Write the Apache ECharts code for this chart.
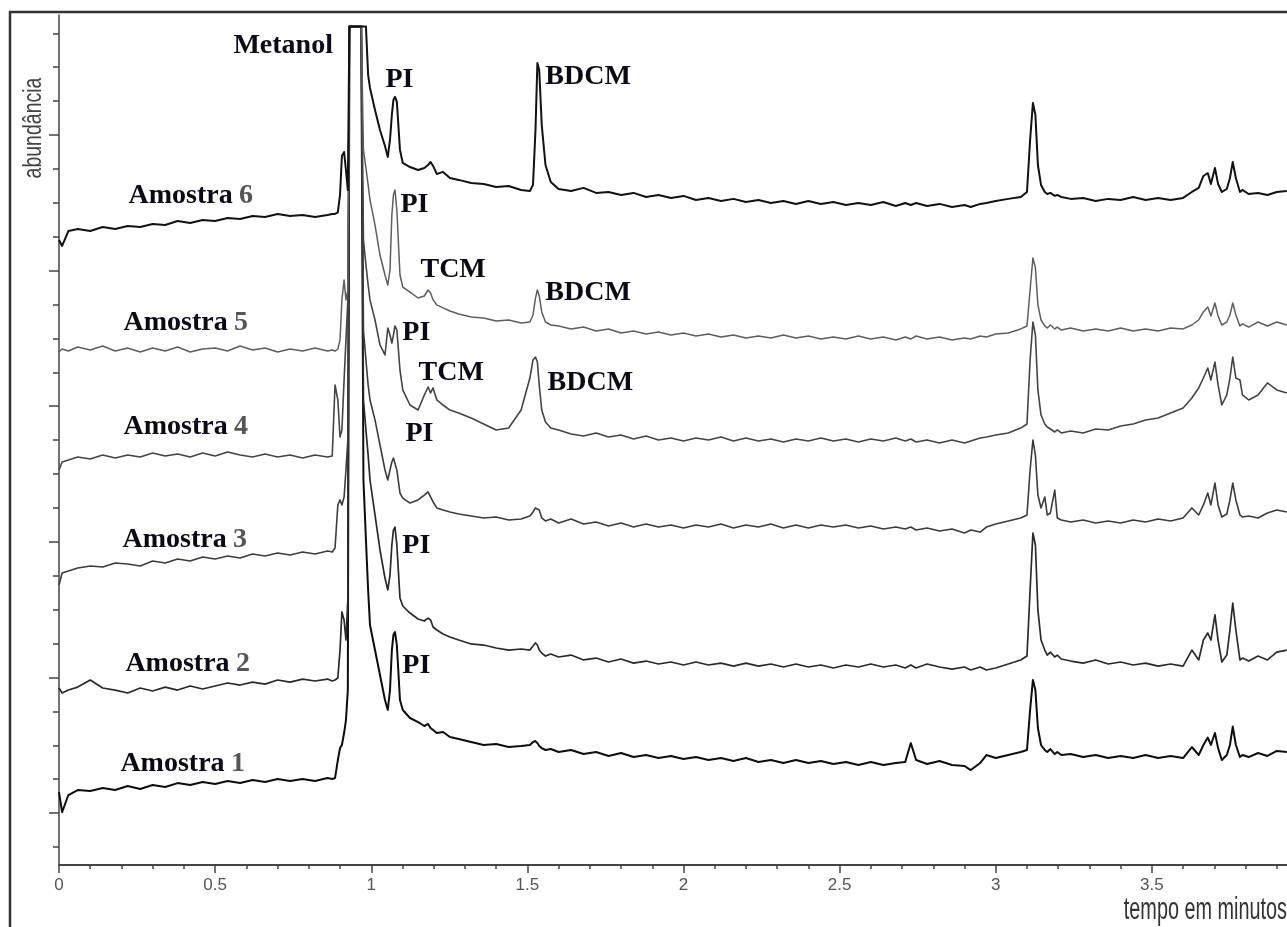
<!DOCTYPE html>
<html lang="pt">
<head>
<meta charset="UTF-8">
<title>Cromatogramas - Amostras 1 a 6</title>
<script src="https://cdn.jsdelivr.net/npm/echarts@6.0.0/dist/echarts.min.js"></script>
<style>
  html, body { margin: 0; padding: 0; width: 100%; height: 100%; background: #fff; overflow: hidden; }
  #chart { width: 1287px; height: 927px; }
</style>
</head>
<body>
<div id="chart"></div>
<script>
// tempo de retenção (min), grade comum a todas as amostras
var tempo = [
  0, 0.01, 0.03, 0.06, 0.10, 0.14, 0.18, 0.22, 0.26, 0.30, 0.34, 0.38, 0.42, 0.46, 0.50, 0.54, 0.58, 0.62, 0.66, 0.70, 0.74, 0.78, 0.82, 0.86,
  0.875, 0.884, 0.893, 0.900, 0.906, 0.913, 0.919, 0.925, 0.930, 0.950, 0.968, 0.975, 0.983, 0.990, 0.996,
  1.012, 1.028, 1.044, 1.053, 1.060, 1.066, 1.071, 1.076, 1.082, 1.092, 1.101,
  1.124, 1.150, 1.170, 1.182, 1.190, 1.198, 1.210, 1.230, 1.252,
  1.28, 1.32, 1.36, 1.40, 1.44, 1.48, 1.508, 1.518, 1.526, 1.532, 1.538, 1.546, 1.558, 1.575,
  1.60, 1.64, 1.68, 1.72, 1.76, 1.80, 1.84, 1.88, 1.92, 1.96, 2.00, 2.04, 2.08, 2.12, 2.16, 2.20, 2.24, 2.28, 2.32, 2.36, 2.40, 2.44, 2.48, 2.52, 2.56, 2.60, 2.64, 2.68,
  2.71, 2.728, 2.745, 2.78, 2.82, 2.86, 2.90, 2.92, 2.95, 2.97, 3.00, 3.04, 3.08,
  3.100, 3.110, 3.119, 3.127, 3.135, 3.145, 3.157, 3.165, 3.175, 3.189, 3.197, 3.21,
  3.24, 3.28, 3.32, 3.36, 3.40, 3.44, 3.48, 3.52, 3.56, 3.60,
  3.628, 3.65, 3.665, 3.679, 3.689, 3.702, 3.712, 3.724, 3.740, 3.750, 3.759, 3.769, 3.782,
  3.79, 3.81, 3.84, 3.87, 3.90, 3.932
];

// abundância (unidades arbitrárias, traços deslocados como na figura)
var amostra6 = [
  42.26, 41.82, 42.92, 43.07, 42.92, 43.22, 43.07, 43.29, 43.22, 43.44, 43.37, 43.66, 43.51, 43.74, 43.66, 43.88, 43.81, 44.03, 43.96, 44.18, 44.03, 44.10, 43.96, 44.10,
  44.18, 44.18, 44.30, 45.60, 48.45, 48.75, 47.40, 45.95, 58, 58, 58, 58, 58, 54.43, 53.47,
  51.85, 50.37, 49.19, 48.38, 49.63, 51.48, 52.59, 52.81, 52.44, 48.90, 47.94,
  47.64, 47.42, 47.57, 47.79, 48.01, 47.72, 47.13, 47.28, 46.83,
  46.69, 46.46, 46.39, 46.17, 46.24, 45.95, 45.87, 46.32, 50.37, 55.31, 54.80, 50.74, 47.79, 46.54,
  46.02, 45.87, 46.10, 45.73, 45.80, 45.58, 45.73, 45.43, 45.58, 45.36, 45.51, 45.21, 45.36, 45.14, 45.29, 45.06, 45.21, 44.99, 45.14, 44.92, 45.14, 44.92, 45.06, 44.84, 44.99, 44.84, 45.06, 44.77,
  44.99, 44.84, 44.99, 44.77, 44.92, 44.69, 44.84, 44.69, 44.92, 44.99, 45.14, 45.29, 45.43,
  45.80, 49.63, 52.36, 51.48, 47.79, 46.32, 45.80, 45.65, 45.73, 45.51, 45.58, 45.43,
  45.29, 45.36, 45.14, 45.29, 45.21, 45.43, 45.21, 45.36, 45.21, 45.36,
  45.80, 46.10, 46.98, 47.20, 46.39, 47.57, 46.39, 45.80, 46.02, 46.83, 48.01, 46.83, 45.80,
  45.95, 45.65, 45.73, 45.58, 45.80, 45.87
];
var amostra5 = [
  34.00, 34.22, 34.07, 34.37, 34.15, 34.44, 34.07, 34.29, 34.00, 34.29, 34.07, 34.37, 34.00, 34.22, 34.29, 34.07, 34.44, 34.15, 34.29, 34.00, 34.22, 34.07, 34.29, 34.07,
  34.15, 34.07, 34.22, 34.89, 37.84, 39.31, 37.84, 38.57, 58, 58, 58, 48.90, 47.57, 46.32, 45.21,
  43.37, 41.15, 39.68, 38.94, 40.05, 44.10, 45.58, 45.95, 44.47, 39.68, 38.79,
  38.42, 37.98, 38.13, 38.57, 38.35, 37.84, 37.47, 37.25, 37.02,
  36.80, 36.58, 36.51, 36.29, 36.36, 36.14, 36.21, 36.73, 37.98, 38.57, 38.13, 36.95, 36.21, 35.99,
  35.92, 35.70, 35.84, 35.55, 35.70, 35.40, 35.55, 35.33, 35.48, 35.25, 35.40, 35.18, 35.33, 35.11, 35.25, 35.03, 35.18, 35.03, 35.25, 35.03, 35.18, 34.96, 35.11, 34.96, 35.18, 34.96, 35.11, 34.89,
  35.11, 34.96, 35.18, 34.96, 35.11, 34.89, 35.03, 34.96, 35.18, 35.11, 35.33, 35.40, 35.70,
  35.92, 38.57, 40.93, 40.20, 37.47, 36.36, 35.92, 35.77, 35.99, 35.70, 35.84, 35.62,
  35.77, 35.55, 35.70, 35.55, 35.77, 35.55, 35.70, 35.55, 35.77, 35.70,
  35.99, 36.36, 36.95, 37.32, 36.66, 37.61, 36.66, 35.99, 36.21, 36.73, 37.61, 36.73, 35.92,
  36.07, 35.84, 36.21, 35.92, 36.21, 35.99
];
var amostra4 = [
  25.30, 25.89, 26.03, 26.26, 26.11, 26.40, 26.18, 26.40, 26.26, 26.55, 26.33, 26.48, 26.26, 26.55, 26.33, 26.63, 26.40, 26.26, 26.48, 26.26, 26.40, 26.18, 26.40, 26.26,
  26.33, 31.57, 30.46, 27.73, 28.25, 31.94, 34.88, 37.84, 58, 58, 58, 42.26, 40.42, 38.94, 37.84,
  36.36, 34.52, 33.78, 35.77, 35.25, 34.66, 35.25, 35.92, 35.62, 32.67, 31.20,
  30.09, 29.72, 30.83, 31.42, 30.98, 31.35, 30.46, 30.09, 29.72,
  29.50, 29.13, 28.69, 28.25, 28.39, 29.72, 32.08, 33.41, 33.63, 33.26, 31.57, 29.72, 28.84, 28.39,
  28.25, 27.95, 27.81, 28.03, 27.73, 27.88, 27.58, 27.81, 27.51, 27.66, 27.44, 27.66, 27.51, 27.73, 27.44, 27.66, 27.44, 27.58, 27.36, 27.58, 27.44, 27.66, 27.44, 27.58, 27.36, 27.58, 27.44, 27.66,
  27.44, 27.58, 27.36, 27.51, 27.29, 27.51, 27.29, 27.44, 27.66, 27.73, 27.88, 28.03, 28.39,
  28.69, 33.41, 36.21, 35.25, 31.20, 29.35, 28.69, 28.47, 28.32, 28.10, 28.25, 28.03,
  28.17, 28.03, 28.32, 28.25, 28.54, 28.69, 28.99, 29.13, 29.50, 29.87,
  30.61, 31.35, 32.08, 32.82, 31.94, 33.26, 31.57, 30.09, 30.83, 32.08, 33.63, 32.08, 31.94,
  30.83, 30.46, 30.83, 31.72, 31.20, 30.98
];
var amostra3 = [
  16.82, 17.70, 17.85, 18.07, 18.22, 18.14, 18.44, 18.37, 18.22, 18.59, 18.44, 18.73, 18.59, 18.88, 18.73, 18.96, 18.81, 19.10, 18.96, 19.18, 19.03, 19.25, 19.10, 19.32,
  19.25, 19.55, 22.72, 23.09, 22.72, 23.31, 25.30, 27.51, 58, 58, 58, 35.62, 33.41, 31.57, 30.46,
  28.99, 27.14, 25.30, 24.56, 25.30, 25.89, 26.18, 26.26, 25.30, 23.60, 23.23,
  22.86, 23.09, 23.45, 23.68, 23.31, 22.94, 22.50, 22.35, 22.20,
  22.05, 21.91, 21.76, 21.83, 21.61, 21.68, 21.91, 22.20, 22.50, 22.57, 22.35, 21.76, 21.54, 21.68,
  21.39, 21.68, 21.32, 21.46, 21.17, 21.39, 21.09, 21.32, 21.09, 21.24, 21.02, 21.24, 21.09, 21.32, 21.02, 21.24, 21.09, 21.32, 21.02, 21.24, 21.02, 21.24, 21.09, 21.24, 21.02, 21.17, 20.95, 21.09,
  20.95, 21.09, 20.87, 21.02, 20.80, 20.95, 20.65, 20.87, 20.72, 21.09, 21.32, 21.54, 21.76,
  21.98, 25.30, 27.51, 26.40, 23.45, 22.50, 23.31, 21.98, 22.13, 23.82, 21.76, 21.61,
  21.46, 21.61, 21.39, 21.54, 21.39, 21.61, 21.46, 21.68, 21.54, 21.76,
  22.50, 21.98, 22.72, 23.60, 22.72, 24.34, 22.72, 21.83, 22.05, 23.09, 24.34, 23.09, 21.98,
  21.83, 21.91, 21.76, 22.13, 22.35, 22.20
];
var amostra2 = [
  9.22, 8.85, 9.07, 9.29, 9.81, 9.22, 9.07, 8.85, 9.22, 9.00, 9.29, 9.07, 9.37, 9.15, 9.37, 9.59, 9.44, 9.66, 9.51, 9.81, 9.66, 9.88, 9.74, 9.88,
  9.74, 9.81, 9.96, 12.02, 14.83, 14.24, 12.76, 15.71, 58, 58, 58, 30.46, 28.25, 26.40, 24.56,
  21.98, 19.40, 17.33, 16.45, 17.55, 19.77, 20.87, 21.09, 19.77, 15.86, 15.27,
  14.75, 14.31, 14.16, 14.38, 14.24, 13.72, 13.50, 13.20, 12.98,
  12.76, 12.47, 12.39, 12.17, 12.02, 12.10, 12.02, 12.32, 12.54, 12.39, 12.02, 11.80, 11.58, 11.73,
  11.51, 11.65, 11.29, 11.43, 11.14, 11.36, 11.06, 11.21, 10.99, 11.14, 10.92, 11.14, 10.92, 11.06, 10.84, 11.06, 10.84, 10.99, 10.77, 10.99, 10.77, 10.92, 10.70, 10.92, 10.77, 10.99, 10.77, 10.92,
  10.70, 10.92, 10.70, 10.99, 10.77, 10.62, 10.77, 10.55, 10.77, 10.55, 10.70, 10.99, 11.29,
  11.58, 16.45, 20.65, 19.77, 14.98, 12.76, 12.02, 11.65, 11.87, 11.51, 11.65, 11.36,
  11.21, 11.06, 11.29, 10.99, 11.14, 10.92, 11.06, 10.84, 10.99, 10.84,
  12.02, 11.29, 12.76, 13.28, 12.76, 14.61, 12.76, 11.14, 11.65, 13.50, 15.49, 13.50, 11.29,
  11.43, 11.21, 11.58, 11.29, 11.87, 12.02
];
var amostra1 = [
  1.55, 0.07, 1.33, 1.70, 1.63, 1.85, 1.70, 1.99, 1.77, 2.07, 1.92, 2.21, 2.07, 2.29, 2.14, 2.36, 2.21, 2.44, 2.29, 2.51, 2.36, 2.51, 2.36, 2.58,
  2.51, 2.58, 3.91, 4.79, 5.02, 5.90, 6.86, 9.07, 58, 58, 58, 24.56, 20.13, 16.45, 13.87,
  12.02, 10.18, 8.34, 7.60, 9.07, 12.02, 13.13, 13.35, 12.39, 8.34, 7.60,
  7.01, 6.71, 6.42, 6.57, 6.27, 6.12, 5.90, 5.98, 5.61,
  5.46, 5.24, 5.02, 5.09, 4.87, 4.94, 5.02, 5.24, 5.31, 5.16, 4.94, 4.79, 4.65, 4.72,
  4.50, 4.65, 4.35, 4.50, 4.21, 4.43, 4.13, 4.28, 4.06, 4.21, 3.98, 4.13, 3.91, 4.06, 3.84, 4.06, 3.76, 3.91, 3.69, 3.91, 3.69, 3.84, 3.62, 3.76, 3.54, 3.76, 3.54, 3.69,
  3.76, 5.16, 3.91, 3.62, 3.84, 3.54, 3.47, 3.17, 3.69, 4.28, 4.06, 4.28, 4.50,
  4.65, 7.60, 9.81, 9.07, 6.27, 5.02, 4.65, 4.50, 4.72, 4.35, 4.50, 4.28,
  4.35, 4.13, 4.28, 4.06, 4.21, 4.06, 4.28, 4.06, 4.21, 4.06,
  4.87, 4.28, 5.02, 5.57, 5.02, 5.90, 4.79, 3.91, 4.28, 5.02, 6.38, 5.02, 4.13,
  4.28, 4.13, 4.43, 4.21, 4.58, 4.50
];

// rótulos dos picos: [texto, tempo, abundância]
var rotulosPicos = [
  ['Metanol', 0.557, 56.57],
  ['PI', 1.044, 54.06], ['BDCM', 1.556, 54.28],
  ['PI', 1.092, 44.84], ['TCM', 1.156, 40.05], ['BDCM', 1.556, 38.35],
  ['PI', 1.098, 35.40], ['TCM', 1.150, 32.45], ['BDCM', 1.563, 31.71],
  ['PI', 1.108, 27.95],
  ['PI', 1.098, 19.69],
  ['PI', 1.098, 10.84]
];
// rótulos das amostras: [número, tempo, abundância]
var rotulosAmostras = [
  ['6', 0.221, 45.5], ['5', 0.205, 36.14], ['4', 0.205, 28.47],
  ['3', 0.202, 20.13], ['2', 0.211, 10.99], ['1', 0.195, 3.61]
];

var ticksPrincipais = [0, 10, 20, 30, 40, 50];
var ticksSecundarios = [-2.5, 2.5, 5, 7.5, 12.5, 15, 17.5, 22.5, 25, 27.5, 32.5, 35, 37.5,
  42.5, 45, 47.5, 52.5, 55, 57.5];

var amostras = [amostra1, amostra2, amostra3, amostra4, amostra5, amostra6];
var estilos = [
  { color: '#0d0d0d', width: 2 },
  { color: '#2a2a2a', width: 1.7 },
  { color: '#3c3c3c', width: 1.6 },
  { color: '#444444', width: 1.6 },
  { color: '#5e5e5e', width: 1.5 },
  { color: '#111111', width: 2 }
];

amostras.forEach(function (a, k) {
  if (a.length !== tempo.length) throw new Error('amostra' + (k + 1) + ' tem ' + a.length + ' valores, esperado ' + tempo.length);
});

var series = amostras.map(function (vals, k) {
  return {
    name: 'Amostra ' + (k + 1),
    type: 'line',
    data: tempo.map(function (t, i) { return [t, vals[i]]; }),
    symbol: 'none',
    silent: true,
    lineStyle: { color: estilos[k].color, width: estilos[k].width, join: 'round' },
    z: 2
  };
});

var fonteRotulo = '"Liberation Serif", "DejaVu Serif", serif';

series.push({
  type: 'scatter',
  silent: true,
  symbolSize: 1,
  itemStyle: { color: 'transparent' },
  data: rotulosPicos.map(function (r) { return { name: r[0], value: [r[1], r[2]] }; }),
  label: {
    show: true, position: 'right', distance: 0, opacity: 1,
    formatter: function (p) { return p.name; },
    fontFamily: fonteRotulo, fontWeight: 'bold', fontSize: 28, color: '#0a0a14'
  },
  z: 5
});

series.push({
  type: 'scatter',
  silent: true,
  symbolSize: 1,
  itemStyle: { color: 'transparent' },
  data: rotulosAmostras.map(function (r) { return { name: r[0], value: [r[1], r[2]] }; }),
  label: {
    show: true, position: 'right', distance: 0, opacity: 1,
    formatter: function (p) { return '{a|Amostra} {n|' + p.name + '}'; },
    rich: {
      a: { fontFamily: fonteRotulo, fontWeight: 'bold', fontSize: 28, color: '#0a0a14' },
      n: { fontFamily: fonteRotulo, fontWeight: 'bold', fontSize: 28, color: '#555555', padding: [0, 0, 0, 3] }
    }
  },
  z: 5
});

var eixoCor = '#444';

var option = {
  backgroundColor: '#fff',
  animation: false,
  grid: { left: 59, top: 15, right: -21, bottom: 62, containLabel: false, outerBoundsMode: 'none' },
  xAxis: {
    type: 'value', min: 0, max: 4, interval: 0.5,
    axisLine: { onZero: false, lineStyle: { color: eixoCor, width: 2 } },
    axisTick: { length: 8, lineStyle: { color: eixoCor, width: 1.5 } },
    minorTick: { show: true, splitNumber: 5, length: 4, lineStyle: { color: eixoCor, width: 1.5 } },
    axisLabel: { color: '#555', fontSize: 17, fontFamily: '"Liberation Sans", Arial, sans-serif', margin: 12 },
    splitLine: { show: false }
  },
  yAxis: [
    {
      type: 'value', min: -3.83, max: 58.85, position: 'left',
      axisLine: { show: true, onZero: false, lineStyle: { color: eixoCor, width: 1.5 } },
      axisTick: { show: true, length: 10, customValues: ticksPrincipais, lineStyle: { color: eixoCor, width: 1.5 } },
      axisLabel: { show: false },
      splitLine: { show: false }
    },
    {
      type: 'value', min: -3.83, max: 58.85, position: 'left',
      axisLine: { show: false, onZero: false },
      axisTick: { show: true, length: 6, customValues: ticksSecundarios, lineStyle: { color: eixoCor, width: 1.5 } },
      axisLabel: { show: false },
      splitLine: { show: false }
    }
  ],
  graphic: [
    {
      type: 'rect', silent: true, z: 0,
      shape: { x: 10, y: 12, width: 1400, height: 1000 },
      style: { fill: 'none', stroke: '#333', lineWidth: 2.5 }
    },
    {
      type: 'text', silent: true,
      x: 34, y: 128, rotation: Math.PI / 2, scaleX: 0.75,
      style: {
        text: 'abundância', fill: '#444',
        font: '26px "Liberation Sans", Arial, sans-serif',
        align: 'center', verticalAlign: 'middle',
        textAlign: 'center', textVerticalAlign: 'middle'
      }
    },
    {
      type: 'text', silent: true,
      x: 1287, y: 910, scaleX: 0.64,
      style: {
        text: 'tempo em minutos', fill: '#333',
        font: '31px "Liberation Sans", Arial, sans-serif',
        align: 'right', verticalAlign: 'middle',
        textAlign: 'right', textVerticalAlign: 'middle'
      }
    }
  ],
  series: series
};

var chart = echarts.init(document.getElementById('chart'));
chart.setOption(option);
</script>
</body>
</html>
